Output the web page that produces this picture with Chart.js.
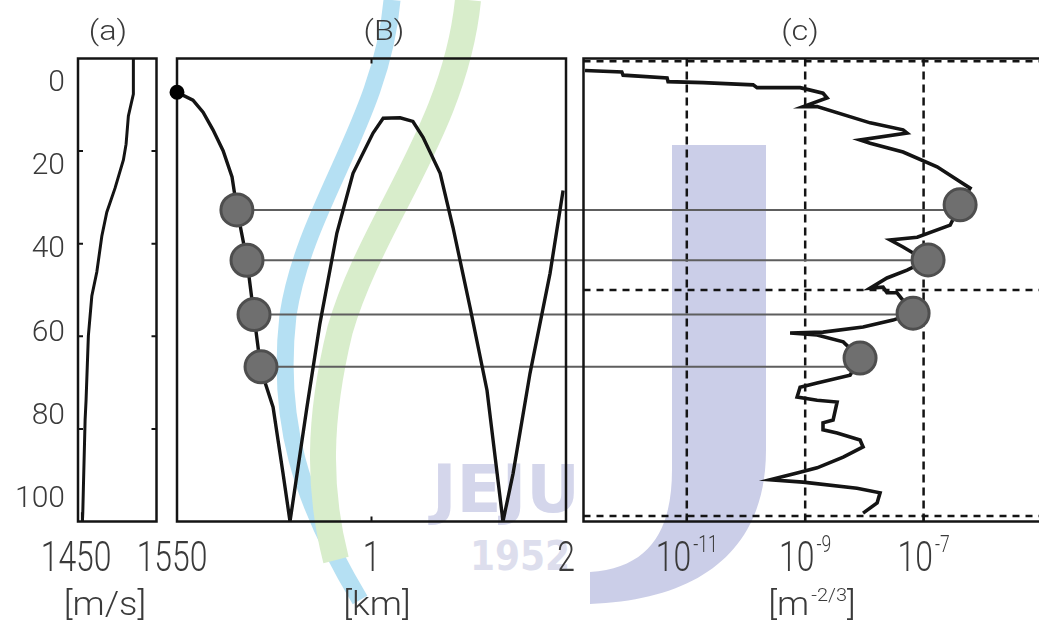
<!DOCTYPE html>
<html>
<head>
<meta charset="utf-8">
<title>Sound speed, ray path and dissipation profile</title>
<script src="https://cdn.jsdelivr.net/npm/chart.js@4.4.1/dist/chart.umd.min.js"></script>
<style>
  html, body { margin: 0; padding: 0; background: #fff; overflow: hidden; }
  #wrap { position: relative; width: 1100px; height: 625px; }
  #mark, #chart { position: absolute; left: 0; top: 0; }
  #mark { opacity: 0.85; }
</style>
</head>
<body>
<div id="wrap">
  <!-- faint watermark of the source scan, sits behind the chart -->
  <svg id="mark" width="1100" height="625" viewBox="0 0 1100 625">
    <path d="M 392 0 C 382 120 305 205 288 315 C 276 420 300 500 360 600" fill="none" stroke="#a9dbf1" stroke-width="17"/>
    <path d="M 468 0 C 455 130 372 220 340 330 C 318 420 318 490 336 560" fill="none" stroke="#d2eac3" stroke-width="26"/>
    <path d="M 672 145 L 766 145 L 766 450 C 766 550 700 600 590 604 L 590 572 C 650 568 672 530 672 470 Z" fill="#c3c6e4"/>
    <text x="432" y="512" font-family="DejaVu Sans, sans-serif" font-weight="bold" font-size="66" fill="#cdcfe8">JEJU</text>
    <text x="470" y="570" font-family="DejaVu Sans Condensed, DejaVu Sans, sans-serif" font-weight="bold" font-size="40" fill="#d8d9eb">1952</text>
  </svg>
  <canvas id="chart" width="1100" height="625"></canvas>
</div>
<script>
// depth axis [m], shared by the three panels
var depthTicks = [0, 20, 40, 60, 80, 100];
var depthMarks = [20, 40, 60, 80];

// (a) sound speed profile [m/s]
var speedTicks = [1450, 1550];
var soundDepth = [0, 7.7, 12.4, 18.5, 21.9, 28.0, 33.2, 38.4, 46.1, 51.3, 59.9, 73.8, 78.1, 92.8, 98.0, 100];
var soundSpeed = [1509.7, 1509.7, 1504.5, 1502.1, 1499.3, 1490.6, 1482.0, 1476.8, 1471.6, 1466.4, 1462.8, 1460.4, 1459.4, 1457.6, 1457.0, 1456.6];

// (B) ray path, range [km]
var rangeTicks = [1, 2];
var rayRange = [0, 0.082, 0.134, 0.185, 0.237, 0.283, 0.308, 0.360, 0.396, 0.432,
  0.494, 0.545, 0.581, 0.668, 0.735, 0.822, 0.905, 1.008, 1.060, 1.147,
  1.213, 1.265, 1.353, 1.419, 1.507, 1.594, 1.676, 1.728, 1.815, 1.918, 1.985];
var rayDepth = [7.3, 9.0, 11.6, 15.4, 19.9, 25.6, 32.5, 43.7, 55.6, 67.3,
  75.3, 89.6, 100, 75.3, 57.2, 37.7, 24.8, 16.1, 12.9, 12.8,
  13.6, 17.0, 24.8, 36.5, 53.8, 71.7, 100, 89.6, 68.0, 46.4, 28.5];
var sourceRange = [0];
var sourceDepth = [7.3];

// (c) profile [m^-2/3], log axis
var epsTicks = [1e-11, 1e-9, 1e-7];
var epsGridDepth = [0.6, 50, 98.8];
var epsValue = [1.91e-13, 7.98e-13, 8.4e-13, 4.65e-12, 4.83e-12, 1.88e-11, 1.32e-10, 1.54e-10, 8.2e-10, 2.0e-9,
  2.34e-9, 9.2e-10, 1.59e-9, 1.25e-8, 4.5e-8, 5.26e-8, 8.45e-9, 1.25e-8, 4.5e-8, 1.69e-7,
  3.68e-7, 6.1e-7, 4.14e-7, 2.81e-7, 7.8e-8, 2.73e-8, 4.5e-8, 6.65e-8, 1.19e-7, 5.26e-8,
  2.41e-8, 1.25e-8, 2.07e-8, 2.41e-8, 3.56e-8, 6.65e-8, 3.05e-8, 9.5e-9, 2.0e-9, 5.56e-10,
  1.59e-9, 4.39e-9, 8.45e-9, 5.73e-9, 1.59e-9, 8.2e-10, 7.3e-10, 1.59e-9, 3.46e-9, 2.96e-9,
  2.0e-9, 2.0e-9, 3.46e-9, 8.45e-9, 9.5e-9, 4.39e-9, 1.59e-9, 7.3e-10, 2.55e-10, 9.2e-10,
  7.5e-9, 1.84e-8, 1.64e-8, 9.5e-9];
var epsDepth = [2.6, 2.9, 3.6, 4.2, 5.0, 5.2, 5.7, 6.3, 6.3, 7.5,
  8.5, 10.4, 10.4, 13.9, 15.4, 16.1, 17.6, 18.3, 20.2, 23.4,
  26.2, 28.0, 31.6, 36.0, 38.6, 39.2, 40.7, 42.0, 43.5, 45.7,
  47.4, 49.6, 49.4, 50.6, 50.6, 55.0, 56.5, 58.0, 59.1, 59.3,
  59.7, 61.2, 64.7, 68.4, 70.1, 71.0, 73.1, 73.8, 74.2, 78.1,
  78.7, 80.2, 80.9, 82.4, 83.9, 86.1, 88.4, 89.5, 91.0, 91.5,
  92.8, 93.8, 96.0, 98.2];

// matched depths: circles on the ray and on the profile
var markRange = [0.308, 0.360, 0.396, 0.432];
var markDepth = [32.7, 43.6, 55.3, 66.6];
var markEps = [4.14e-7, 1.19e-7, 6.65e-8, 8.45e-9];
var markEpsDepth = [31.6, 43.5, 55.0, 64.7];

(function () {
  'use strict';

  var INK = '#141414';
  var TEXT = '#3a3a3a';
  var FAMILY = 'Roboto, "DejaVu Sans", sans-serif';

  function pts(xs, ys) {
    return xs.map(function (x, i) { return { x: x, y: ys[i] }; });
  }

  function panelScale(type, min, max, weight) {
    return {
      type: type,
      position: 'bottom',
      stack: 'panels',
      stackWeight: weight,
      min: min,
      max: max,
      offset: false,
      grid: { display: false, drawTicks: false },
      border: { display: false },
      ticks: { display: false },
      afterFit: function (s) { s.height = 103.5; }
    };
  }

  function setFont(ctx, size) {
    ctx.font = '300 ' + size + 'px ' + FAMILY;
  }

  function putText(ctx, text, x, y, size, sx) {
    setFont(ctx, size);
    ctx.save();
    ctx.translate(x, y);
    ctx.scale(sx, 1);
    ctx.textAlign = 'left';
    ctx.textBaseline = 'middle';
    ctx.fillText(text, 0, 0);
    ctx.restore();
  }

  // parts: [[text, isSuperscript], ...], centred on cx
  function putRich(ctx, parts, cx, cy, size, sx) {
    var widths = parts.map(function (p) {
      setFont(ctx, p[1] ? size * 0.55 : size);
      return ctx.measureText(p[0]).width * sx + (p[1] ? 2 : 0);
    });
    var total = widths.reduce(function (a, b) { return a + b; }, 0);
    var x = cx - total / 2;
    parts.forEach(function (p, i) {
      if (p[1]) putText(ctx, p[0], x + 2, cy - size * 0.32, size * 0.55, sx);
      else putText(ctx, p[0], x, cy, size, sx);
      x += widths[i];
    });
  }

  function dashedLine(ctx, x1, y1, x2, y2, dash) {
    ctx.save();
    ctx.setLineDash(dash);
    ctx.beginPath();
    ctx.moveTo(x1, y1);
    ctx.lineTo(x2, y2);
    ctx.stroke();
    ctx.restore();
  }

  var panelPlugin = {
    id: 'panels',
    beforeDatasetsDraw: function (chart) {
      var ctx = chart.ctx;
      var s = chart.scales;
      var top = s.y.top, bottom = s.y.bottom;
      ctx.save();

      // dashed grid of panel (c)
      ctx.strokeStyle = INK;
      ctx.lineWidth = 2.5;
      epsTicks.forEach(function (v) {
        var x = s.xc.getPixelForValue(v);
        dashedLine(ctx, x, top, x, bottom, [8, 5]);
      });
      epsGridDepth.forEach(function (d) {
        var y = s.y.getPixelForValue(d);
        dashedLine(ctx, s.xc.left, y, s.xc.right, y, [7, 6]);
      });

      // lines linking the same depth on the ray and on the profile
      ctx.strokeStyle = '#5e5e5e';
      ctx.lineWidth = 2;
      markRange.forEach(function (r, i) {
        var y = s.y.getPixelForValue(markDepth[i]);
        ctx.beginPath();
        ctx.moveTo(s.xb.getPixelForValue(r), y);
        ctx.lineTo(s.xc.getPixelForValue(markEps[i]), y);
        ctx.stroke();
      });

      // panel frames
      ctx.strokeStyle = INK;
      ctx.lineWidth = 2.5;
      ['xa', 'xb', 'xc'].forEach(function (id) {
        ctx.strokeRect(s[id].left, top, s[id].right - s[id].left, bottom - top);
      });

      // inward tick marks
      ctx.lineWidth = 2;
      ctx.beginPath();
      depthMarks.forEach(function (d) {
        var y = s.y.getPixelForValue(d);
        ctx.moveTo(s.xa.left, y); ctx.lineTo(s.xa.left + 5, y);
        ctx.moveTo(s.xa.right, y); ctx.lineTo(s.xa.right - 5, y);
      });
      rangeTicks.forEach(function (r) {
        var x = s.xb.getPixelForValue(r);
        ctx.moveTo(x, top); ctx.lineTo(x, top + 5);
        ctx.moveTo(x, bottom); ctx.lineTo(x, bottom - 5);
      });
      epsTicks.forEach(function (v) {
        var x = s.xc.getPixelForValue(v);
        ctx.moveTo(x, bottom); ctx.lineTo(x, bottom - 6);
      });
      ctx.stroke();
      ctx.restore();
    },
    afterDraw: function (chart) {
      var ctx = chart.ctx;
      var s = chart.scales;
      ctx.save();
      ctx.fillStyle = TEXT;

      // panel letters
      putRich(ctx, [['(a)']], 108, 33, 27, 1.2);
      putRich(ctx, [['(B)']], 384, 33, 27, 1.2);
      putRich(ctx, [['(c)']], 800, 33, 27, 1.2);

      // bottom tick labels
      var tickY = 560;
      speedTicks.forEach(function (v) {
        putRich(ctx, [[String(v)]], s.xa.getPixelForValue(v), tickY, 42, 0.76);
      });
      rangeTicks.forEach(function (v) {
        putRich(ctx, [[String(v)]], s.xb.getPixelForValue(v), tickY, 42, 0.76);
      });
      epsTicks.forEach(function (v) {
        var e = Math.round(Math.log10(v));
        putRich(ctx, [['10'], [String(e), true]], s.xc.getPixelForValue(v), tickY, 42, 0.76);
      });

      // units
      var unitY = 607;
      putRich(ctx, [['[m/s]']], 105, unitY, 33, 1.1);
      putRich(ctx, [['[km]']], 377, unitY, 33, 1.1);
      putRich(ctx, [['[m'], ['-2/3', true], [']']], 812, unitY, 33, 1.1);
      ctx.restore();
    }
  };

  var lineStyle = { showLine: true, pointRadius: 0, borderColor: INK, borderWidth: 3, tension: 0, yAxisID: 'y' };

  function lineSet(label, xAxis, data, width) {
    return Object.assign({}, lineStyle, { label: label, xAxisID: xAxis, data: data, borderWidth: width });
  }

  function markSet(label, xAxis, data, radius, fill, edge) {
    return {
      label: label,
      xAxisID: xAxis,
      yAxisID: 'y',
      data: data,
      showLine: false,
      pointRadius: radius,
      pointBackgroundColor: fill,
      pointBorderColor: edge,
      pointBorderWidth: 3,
      clip: false
    };
  }

  new Chart(document.getElementById('chart'), {
    type: 'scatter',
    data: {
      datasets: [
        markSet('ray marks', 'xb', pts(markRange, markDepth), 16, '#6f6f6f', '#4e4e4e'),
        markSet('profile marks', 'xc', pts(markEps, markEpsDepth), 16, '#6f6f6f', '#4e4e4e'),
        markSet('source', 'xb', pts(sourceRange, sourceDepth), 6, '#000', '#000'),
        lineSet('sound speed', 'xa', pts(soundSpeed, soundDepth), 3),
        lineSet('ray', 'xb', pts(rayRange, rayDepth), 3.4),
        lineSet('profile', 'xc', pts(epsValue, epsDepth), 3.6)
      ]
    },
    options: {
      responsive: false,
      animation: false,
      events: [],
      layout: { padding: { top: 58.5, right: 10, bottom: 0, left: 0 }, autoPadding: false },
      plugins: { legend: { display: false }, tooltip: { enabled: false } },
      scales: {
        xa: panelScale('linear', 1452, 1533.8, 78.5),
        xgap1: panelScale('linear', 0, 1, 20.5),
        xb: panelScale('linear', 0, 2, 389),
        xgap2: panelScale('linear', 0, 1, 17.5),
        xc: panelScale('logarithmic', 1.8e-13, 6.47e-5, 506.5),
        ylab: {
          type: 'linear',
          position: 'left',
          reverse: true,
          min: -6.0,
          max: 105.3,
          grid: { display: false, drawTicks: false },
          border: { display: false },
          ticks: { color: TEXT, padding: 13, font: { family: FAMILY, size: 30, weight: '300' } },
          afterBuildTicks: function (s) { s.ticks = depthTicks.map(function (v) { return { value: v }; }); },
          afterFit: function (s) { s.width = 78; }
        },
        y: {
          type: 'linear',
          position: 'left',
          reverse: true,
          min: 0,
          max: 100,
          display: false,
          afterFit: function (s) { s.width = 0; }
        }
      }
    },
    plugins: [panelPlugin]
  });
})();
</script>
</body>
</html>
